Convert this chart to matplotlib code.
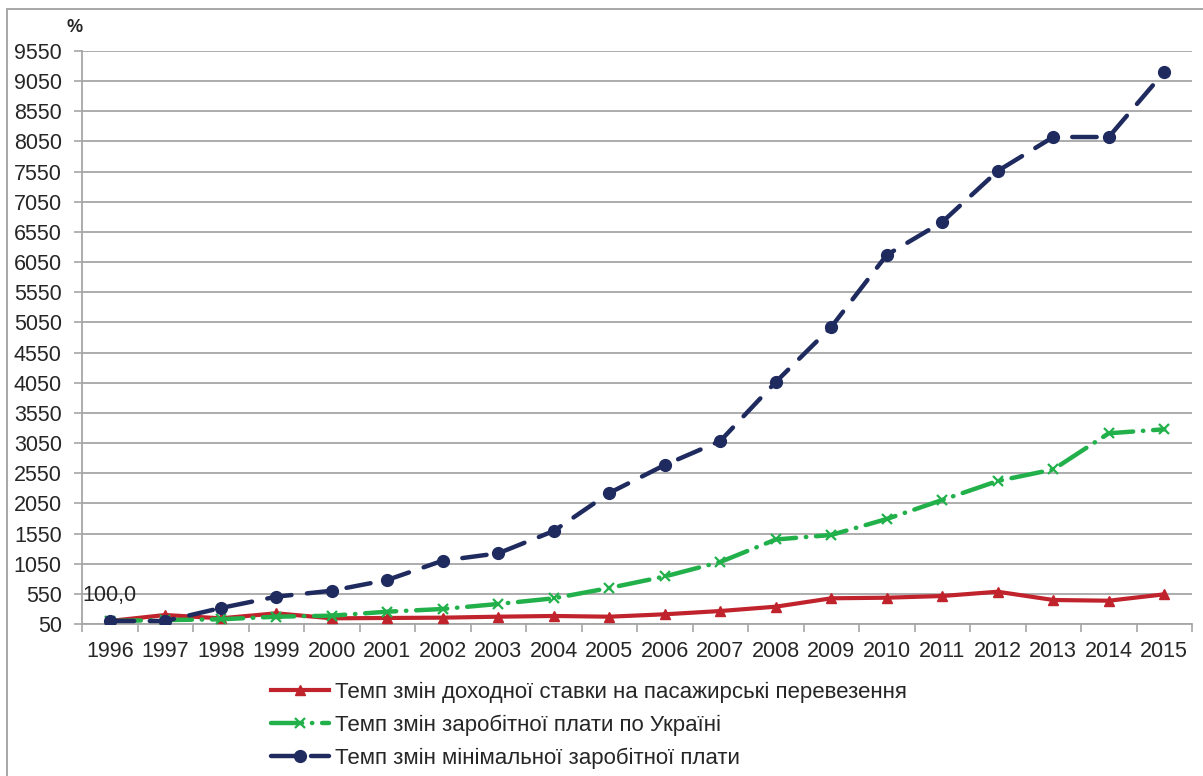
import numpy as np
import matplotlib.pyplot as plt
from matplotlib.patches import Rectangle

plt.rcParams['font.family'] = ['Liberation Sans', 'DejaVu Sans']

# Data (%)
years = ['1996', '1997', '1998', '1999', '2000', '2001', '2002', '2003', '2004', '2005',
         '2006', '2007', '2008', '2009', '2010', '2011', '2012', '2013', '2014', '2015']
passenger_rate = [100, 199, 144, 227, 144, 150, 155, 171, 183, 171,
                  211, 265, 337, 476, 486, 514, 585, 448, 436, 542]
avg_wage = [100, 115, 128, 171, 188, 254, 299, 382, 476, 647,
            838, 1078, 1451, 1526, 1791, 2106, 2421, 2612, 3212, 3278]
min_wage = [100, 100, 315, 503, 602, 780, 1100, 1222, 1592, 2222,
            2686, 3084, 4062, 4974, 6168, 6715, 7561, 8124, 8124, 9202]

labels = ['Темп змін доходної ставки на пасажирські перевезення',
          'Темп змін заробітної плати по Україні',
          'Темп змін мінімальної заробітної плати']

red = '#C0232C'
green = '#22B04B'
navy = '#1F2B5F'
grid_c = '#A6A6A6'
txt = '#262626'

fig = plt.figure(figsize=(12.03, 7.76), dpi=100)
ax = fig.add_axes([82 / 1203, 1 - 624 / 776, (1192 - 82) / 1203, (624 - 51) / 776])

x = np.arange(len(years))

ax.plot(x, passenger_rate, color=red, lw=3, marker='^', ms=7, mec=red, mfc=red,
        label=labels[0], zorder=3)
ax.plot(x, avg_wage, color=green, lw=3.2, marker='x', ms=7, mew=1.6, mec=green,
        dashes=(7, 2.2, 0.1, 2.2), dash_capstyle='round', label=labels[1], zorder=4)
ax.plot(x, min_wage, color=navy, lw=3.2, marker='o', ms=8.5, mec=navy, mfc=navy,
        dashes=(5.5, 3.5), dash_capstyle='round', label=labels[2], zorder=5)

ax.annotate('100,0', (0, min_wage[0]), xytext=(0, 18), textcoords='offset points',
            ha='center', va='center', fontsize=15.5, color=txt)

# axes styling
ax.set_xlim(-0.5, len(years) - 0.5)
ax.set_ylim(50, 9550)
ax.set_yticks(np.arange(50, 9551, 500))
ax.set_xticks(x)
ax.set_xticklabels(years)
ax.set_xticks(np.arange(-0.5, len(years), 1), minor=True)
ax.tick_params(axis='x', which='major', length=0, pad=12.5, labelsize=15.5, labelcolor=txt)
ax.tick_params(axis='x', which='minor', length=6, width=1.2, color=grid_c, direction='out')
ax.tick_params(axis='y', length=6, width=1.2, color=grid_c, pad=8.5, labelsize=15.5,
               labelcolor=txt)
ax.yaxis.grid(True, color=grid_c, lw=1.3)
ax.set_axisbelow(True)
for s in ['top', 'right']:
    ax.spines[s].set_visible(False)
for s in ['left', 'bottom']:
    ax.spines[s].set_color(grid_c)
    ax.spines[s].set_linewidth(1.3)

fig.text(75 / 1203, 1 - 28 / 776, '%', fontsize=13, fontweight='bold', color=txt,
         ha='center', va='center')

leg = fig.legend(loc='upper left', bbox_to_anchor=(262 / 1203, 1 - 673 / 776),
                 frameon=False, fontsize=16, handlelength=2.6, handletextpad=0.3,
                 labelspacing=0.52, borderaxespad=0)
for t in leg.get_texts():
    t.set_color(txt)

# outer chart border
fig.patches.append(Rectangle((7 / 1203, -0.1), 1.2, 1.1 - 9 / 776, transform=fig.transFigure,
                             fill=False, edgecolor='#A0A0A0', lw=1.3, clip_on=False))

plt.savefig('out.png', dpi=100)
